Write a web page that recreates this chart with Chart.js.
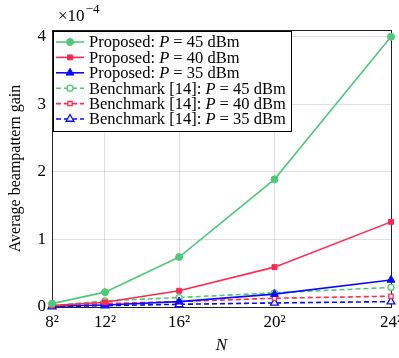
<!DOCTYPE html>
<html>
<head>
<meta charset="utf-8">
<script src="https://cdn.jsdelivr.net/npm/chart.js@4"></script>
<style>
  html, body { margin: 0; padding: 0; background: #fff; }
  #wrap { width: 399px; height: 358px; }
</style>
</head>
<body>
<div id="wrap"><canvas id="chart_content" width="399" height="358"></canvas></div>
<script>
// x values are N = 8^2 ... 24^2 (linear axis)
const nValues = [64, 144, 256, 400, 576];
const nLabels = ['8\u00B2', '12\u00B2', '16\u00B2', '20\u00B2', '24\u00B2'];
const yTicks = [0, 1, 2, 3, 4];

// average beampattern gain, in units of 1e-4
const proposed45 = [0.05, 0.22, 0.74, 1.89, 4.0];
const proposed40 = [0.02, 0.07, 0.24, 0.59, 1.26];
const proposed35 = [0.01, 0.03, 0.08, 0.19, 0.40];
const bench45 = [0.02, 0.09, 0.14, 0.21, 0.29];
const bench40 = [0.01, 0.05, 0.08, 0.13, 0.16];
const bench35 = [0.005, 0.02, 0.04, 0.06, 0.08];

const GREEN = '#4fc878';
const RED = '#ff2a52';
const BLUE = '#0a0aff';
const SERIF = '"Liberation Serif", "DejaVu Serif", serif';

function pts(vals) {
	return vals.map(function (v, i) { return { x: nValues[i], y: v }; });
}

function series(label, vals, color, style, filled, dashed) {
	return {
		label: label,
		data: pts(vals),
		borderColor: color,
		backgroundColor: filled ? color : '#ffffff',
		pointBackgroundColor: filled ? color : '#ffffff',
		pointBorderColor: color,
		pointStyle: style,
		pointRadius: style === 'triangle' ? 4.5 : (filled ? 3.5 : 3),
		pointBorderWidth: filled ? 1 : 1.3,
		borderWidth: 1.6,
		borderDash: dashed ? [5, 3] : [],
		tension: 0,
		clip: false,
		fill: false
	};
}

// legend drawn by hand so each entry shows line + marker like pgfplots
const legendBox = {
	id: 'legendBox',
	afterDraw: function (chart) {
		const ctx = chart.ctx;
		const area = chart.chartArea;
		const x0 = area.left + 1, y0 = area.top + 1;
		const w = 238, h = 100;
		ctx.save();
		ctx.fillStyle = '#ffffff';
		ctx.fillRect(x0, y0, w, h);
		ctx.strokeStyle = '#000';
		ctx.lineWidth = 1;
		ctx.strokeRect(x0 + 0.5, y0 + 0.5, w, h);
		chart.data.datasets.forEach(function (ds, i) {
			const cy = y0 + 11 + i * 15.4;
			ctx.strokeStyle = ds.borderColor;
			ctx.lineWidth = 1.6;
			ctx.setLineDash(ds.borderDash);
			ctx.beginPath();
			ctx.moveTo(x0 + 3, cy);
			ctx.lineTo(x0 + 31, cy);
			ctx.stroke();
			ctx.setLineDash([]);
			const r = ds.pointStyle === 'triangle' ? 4.5 : ds.pointRadius;
			ctx.fillStyle = ds.pointBackgroundColor;
			ctx.strokeStyle = ds.pointBorderColor;
			ctx.lineWidth = ds.pointBorderWidth;
			Chart.helpers.drawPoint(ctx, {
				pointStyle: ds.pointStyle, radius: r, borderWidth: ds.pointBorderWidth
			}, x0 + 17, cy);
			// text: prefix, italic P, rest
			const k = ds.label.lastIndexOf('P =');
			const pre = ds.label.slice(0, k), post = ds.label.slice(k + 1);
			let tx = x0 + 36;
			ctx.fillStyle = '#000';
			ctx.textBaseline = 'middle';
			ctx.textAlign = 'left';
			ctx.font = '16.5px ' + SERIF;
			ctx.fillText(pre, tx, cy + 1);
			tx += ctx.measureText(pre).width;
			ctx.font = 'italic 16.5px ' + SERIF;
			ctx.fillText('P', tx, cy + 1);
			tx += ctx.measureText('P').width;
			ctx.font = '16.5px ' + SERIF;
			ctx.fillText(post, tx, cy + 1);
		});
		ctx.restore();
	}
};

// frame around plot and the x10^-4 multiplier
const frameAndExp = {
	id: 'frameAndExp',
	beforeDatasetsDraw: function (chart) {
		const ctx = chart.ctx;
		const a = chart.chartArea;
		ctx.save();
		ctx.strokeStyle = '#222';
		ctx.lineWidth = 1;
		ctx.strokeRect(a.left + 0.5, a.top + 0.5, a.right - a.left, a.bottom - a.top);
		ctx.restore();
	},
	afterDraw: function (chart) {
		const ctx = chart.ctx;
		ctx.save();
		ctx.fillStyle = '#000';
		ctx.textBaseline = 'alphabetic';
		ctx.textAlign = 'left';
		ctx.font = '17px ' + SERIF;
		ctx.fillText('\u00D710', 58, 21);
		const w = ctx.measureText('\u00D710').width;
		ctx.font = '13px ' + SERIF;
		ctx.fillText('\u22124', 58 + w + 1, 13);
		ctx.restore();
	}
};

function drawChart() {
	const config = {
		type: 'line',
		data: {
			datasets: [
				series('Proposed: P = 45 dBm', proposed45, GREEN, 'circle', true, false),
				series('Proposed: P = 40 dBm', proposed40, RED, 'rect', true, false),
				series('Proposed: P = 35 dBm', proposed35, BLUE, 'triangle', true, false),
				series('Benchmark [14]: P = 45 dBm', bench45, GREEN, 'circle', false, true),
				series('Benchmark [14]: P = 40 dBm', bench40, RED, 'rect', false, true),
				series('Benchmark [14]: P = 35 dBm', bench35, BLUE, 'triangle', false, true)
			]
		},
		options: {
			responsive: false,
			animation: false,
			layout: { padding: { top: 30, right: 8, left: 0, bottom: 0 }, autoPadding: false },
			plugins: {
				legend: { display: false },
				tooltip: { enabled: false }
			},
			scales: {
				x: {
					type: 'linear',
					min: 64,
					max: 576,
					afterBuildTicks: function (axis) {
						axis.ticks = nValues.map(function (v) { return { value: v }; });
					},
					afterFit: function (axis) {
						axis.height = 51;
						axis.paddingLeft = 0;
						axis.paddingRight = 0;
					},
					ticks: {
						color: '#000',
						font: { family: SERIF, size: 17 },
						padding: 5,
						maxRotation: 0,
						autoSkip: false,
						callback: function (v) {
							const i = nValues.indexOf(v);
							return i >= 0 ? nLabels[i] : '';
						}
					},
					grid: { color: 'rgba(0,0,0,0.12)', drawTicks: false },
					border: { display: false },
					title: {
						display: true,
						text: 'N',
						color: '#000',
						font: { family: SERIF, size: 17, style: 'italic' },
						padding: { top: 0, bottom: 2 }
					}
				},
				y: {
					type: 'linear',
					min: 0,
					max: 4.1,
					afterBuildTicks: function (axis) {
						axis.ticks = yTicks.map(function (v) { return { value: v }; });
					},
					afterFit: function (axis) {
						axis.width = 52;
						axis.paddingTop = 0;
						axis.paddingBottom = 0;
					},
					ticks: {
						color: '#000',
						font: { family: SERIF, size: 17 },
						padding: 6
					},
					grid: { color: 'rgba(0,0,0,0.12)', drawTicks: false },
					border: { display: false },
					title: {
						display: true,
						text: 'Average beampattern gain',
						color: '#000',
						font: { family: SERIF, size: 16 },
						padding: { top: 6, bottom: 0 }
					}
				}
			}
		},
		plugins: [frameAndExp, legendBox]
	};
	new Chart(document.getElementById('chart_content'), config);
}

drawChart();
</script>
</body>
</html>
